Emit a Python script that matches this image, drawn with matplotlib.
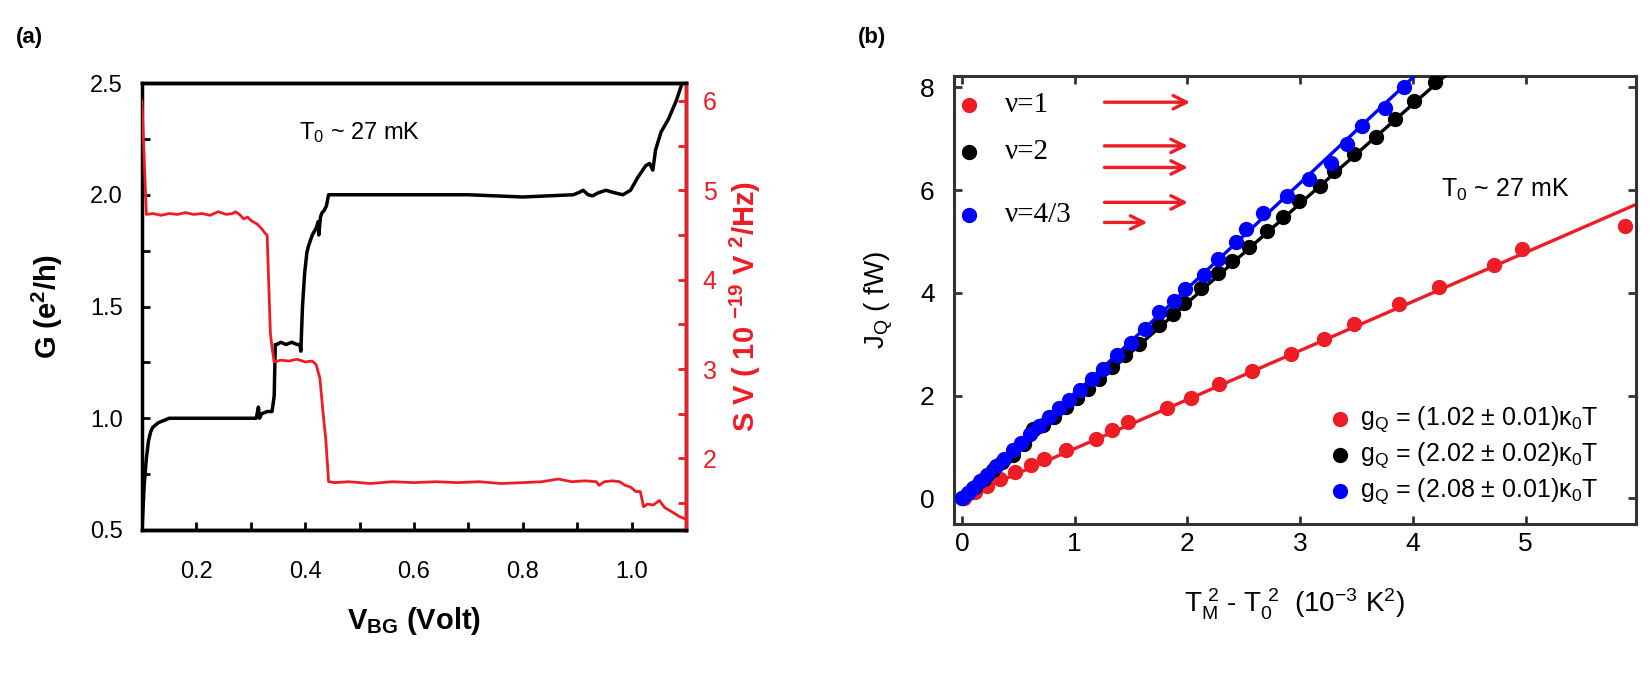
import numpy as np
import matplotlib
matplotlib.use("Agg")
import matplotlib.pyplot as plt
from matplotlib.ticker import MultipleLocator

plt.rcParams["font.family"] = ["Liberation Sans", "DejaVu Sans"]
plt.rcParams["mathtext.default"] = "regular"

# --- panel (a): conductance and noise vs back-gate voltage ---
g_v = [0.100, 0.104, 0.108, 0.112, 0.116, 0.120, 0.130, 0.140, 0.150, 0.200, 0.250, 0.300,
       0.310, 0.314, 0.316, 0.320, 0.330, 0.339, 0.343, 0.345, 0.348, 0.355, 0.365, 0.375,
       0.385, 0.390, 0.392, 0.395, 0.399, 0.403, 0.406, 0.413, 0.420, 0.424, 0.425, 0.428,
       0.431, 0.435, 0.439, 0.443, 0.500, 0.600, 0.700, 0.800, 0.893, 0.903, 0.911, 0.920,
       0.928, 0.940, 0.953, 0.967, 0.984, 0.998, 1.012, 1.026, 1.033, 1.039, 1.044, 1.054,
       1.068, 1.082, 1.093]
g_g = [0.50, 0.70, 0.82, 0.90, 0.94, 0.96, 0.98, 0.99, 1.00, 1.00, 1.00, 1.00,
       1.00, 1.05, 1.00, 1.02, 1.03, 1.03, 1.10, 1.33, 1.33, 1.34, 1.33, 1.34,
       1.33, 1.33, 1.30, 1.50, 1.65, 1.74, 1.77, 1.82, 1.85, 1.88, 1.82, 1.90,
       1.92, 1.93, 1.95, 2.00, 2.00, 2.00, 2.00, 1.99, 2.00, 2.01, 2.02, 2.00,
       1.995, 2.01, 2.02, 2.01, 2.00, 2.02, 2.08, 2.13, 2.14, 2.11, 2.20, 2.28,
       2.34, 2.42, 2.50]

s_v = [0.100, 0.108, 0.120, 0.135, 0.150, 0.165, 0.180, 0.195, 0.210, 0.225, 0.240, 0.255,
       0.266, 0.272, 0.279, 0.287, 0.294, 0.301, 0.312, 0.320, 0.326, 0.330, 0.336, 0.340,
       0.343, 0.355, 0.370, 0.385, 0.400, 0.413, 0.420, 0.427, 0.433, 0.438, 0.443, 0.455,
       0.480, 0.520, 0.560, 0.600, 0.640, 0.680, 0.720, 0.760, 0.800, 0.835, 0.865, 0.890,
       0.915, 0.935, 0.940, 0.950, 0.965, 0.978, 0.988, 0.998, 1.008, 1.016, 1.022, 1.029,
       1.040, 1.051, 1.061, 1.075, 1.088, 1.100]
s_n = [6.00, 4.73, 4.74, 4.72, 4.74, 4.73, 4.75, 4.73, 4.74, 4.72, 4.76, 4.73,
       4.74, 4.76, 4.73, 4.68, 4.70, 4.66, 4.62, 4.57, 4.52, 4.50, 3.40, 3.20,
       3.08, 3.10, 3.09, 3.11, 3.08, 3.09, 3.05, 2.90, 2.50, 2.20, 1.74, 1.73,
       1.74, 1.72, 1.74, 1.73, 1.74, 1.73, 1.74, 1.72, 1.73, 1.74, 1.77, 1.74,
       1.75, 1.74, 1.70, 1.74, 1.75, 1.74, 1.70, 1.68, 1.63, 1.63, 1.46, 1.49,
       1.48, 1.53, 1.45, 1.40, 1.35, 1.32]

# --- panel (b): heat current vs temperature difference ---
red_x = [0.02, 0.12, 0.22, 0.34, 0.47, 0.61, 0.73, 0.92, 1.19, 1.33, 1.47, 1.82, 2.03,
         2.28, 2.57, 2.92, 3.21, 3.48, 3.88, 4.23, 4.72, 4.97, 5.88]
red_y = [0.00, 0.12, 0.24, 0.37, 0.52, 0.65, 0.77, 0.95, 1.15, 1.33, 1.48, 1.75, 1.96,
         2.22, 2.48, 2.80, 3.10, 3.40, 3.78, 4.12, 4.55, 4.86, 5.30]
black_x = [0.00, 0.05, 0.12, 0.20, 0.28, 0.36, 0.45, 0.55, 0.63, 0.72, 0.82, 0.92, 1.02,
           1.12, 1.22, 1.33, 1.45, 1.57, 1.75, 1.87, 1.97, 2.12, 2.27, 2.40, 2.55, 2.71,
           2.85, 2.99, 3.18, 3.30, 3.48, 3.67, 3.84, 4.01, 4.20]
black_y = [0.00, 0.10, 0.22, 0.38, 0.55, 0.70, 0.85, 1.05, 1.35, 1.42, 1.58, 1.78, 1.95,
           2.12, 2.33, 2.55, 2.78, 3.00, 3.38, 3.58, 3.80, 4.10, 4.38, 4.62, 4.90, 5.20,
           5.48, 5.78, 6.08, 6.37, 6.70, 7.03, 7.38, 7.73, 8.10]
blue_x = [0.00, 0.05, 0.10, 0.16, 0.22, 0.30, 0.37, 0.45, 0.52, 0.60, 0.68, 0.77, 0.86,
          0.95, 1.05, 1.15, 1.25, 1.38, 1.50, 1.62, 1.75, 1.88, 1.98, 2.15, 2.27, 2.43,
          2.52, 2.67, 2.88, 3.08, 3.27, 3.42, 3.55, 3.75, 3.92]
blue_y = [0.00, 0.10, 0.20, 0.33, 0.45, 0.62, 0.77, 0.95, 1.08, 1.25, 1.40, 1.58, 1.75,
          1.92, 2.10, 2.32, 2.52, 2.78, 3.02, 3.30, 3.62, 3.84, 4.08, 4.35, 4.65, 4.98,
          5.24, 5.56, 5.89, 6.22, 6.52, 6.89, 7.24, 7.59, 8.00]
# fitted lines (end points)
red_fit_x, red_fit_y = [0.05, 5.98], [0.06, 5.72]
black_fit_x, black_fit_y = [0.03, 4.30], [0.00, 8.25]
blue_fit_x, blue_fit_y = [0.03, 4.03], [0.04, 8.25]

fit_labels = [r"g$_Q$ = (1.02 $\pm$ 0.01)$\kappa_0$T",
              r"g$_Q$ = (2.02 $\pm$ 0.02)$\kappa_0$T",
              r"g$_Q$ = (2.08 $\pm$ 0.01)$\kappa_0$T"]
nu_labels = ["ν=1", "ν=2", "ν=4/3"]

RED = "#ee1c25"
BLUE = "#0000ff"

fig = plt.figure(figsize=(16.5, 6.94), dpi=100)

# ---------- (a) ----------
ax1 = fig.add_axes([142 / 1650, 1 - 530 / 694, 544 / 1650, 447 / 694])
ax2 = ax1.twinx()
ax1.plot(g_v, g_g, color="black", lw=2.5)
ax2.plot(s_v, s_n, color=RED, lw=2.0)
ax1.set_xlim(0.1, 1.1)
ax1.set_ylim(0.5, 2.5)
ax2.set_ylim(1.2, 6.2)

ax1.xaxis.set_minor_locator(MultipleLocator(0.1))
ax1.yaxis.set_minor_locator(MultipleLocator(0.25))
ax1.set_xticks([0.2, 0.4, 0.6, 0.8, 1.0])
ax1.set_xticklabels(["0.2", "0.4", "0.6", "0.8", "1.0"])
ax1.set_yticks([0.5, 1.0, 1.5, 2.0, 2.5])
ax1.set_yticklabels(["0.5", "1.0", "1.5", "2.0", "2.5"])
ax1.tick_params(axis="both", which="both", direction="in", length=6, width=2,
                labelsize=17, top=False, right=False)
ax1.tick_params(axis="x", pad=22)
ax1.tick_params(axis="y", pad=14)
ax2.yaxis.set_major_locator(MultipleLocator(1))
ax2.yaxis.set_minor_locator(MultipleLocator(0.5))
ax2.tick_params(axis="y", which="both", direction="in", length=6, width=2,
                colors=RED, labelsize=18, pad=12)
for s in ax1.spines.values():
    s.set_linewidth(2.5)
for s in ax2.spines.values():
    s.set_linewidth(2.5)
ax2.spines["right"].set_color(RED)
ax2.spines["left"].set_visible(False)

ax1.set_xlabel(r"V$_{BG}$ (Volt)", fontsize=21, fontweight="bold", labelpad=16)
ax1.set_ylabel(r"G (e$^2$/h)", fontsize=21, fontweight="bold", labelpad=18)
ax2.set_ylabel(r"S V ( 10 $^{-19}$ V $^2$/Hz)", fontsize=21, fontweight="bold",
               color=RED, labelpad=8)
ax1.text(0.40, 0.89, r"T$_0$ ~ 27 mK", transform=ax1.transAxes, fontsize=17,
         ha="center", va="center")

# ---------- (b) ----------
ax3 = fig.add_axes([954 / 1650, 1 - 524 / 694, 682 / 1650, 448 / 694])
ax3.plot(red_fit_x, red_fit_y, color=RED, lw=2.4, zorder=2)
ax3.plot(red_x, red_y, "o", color=RED, ms=10, zorder=3)
ax3.plot(black_x, black_y, "o", color="black", ms=10, zorder=3)
ax3.plot(black_fit_x, black_fit_y, color="black", lw=2.4, zorder=4)
ax3.plot(blue_x, blue_y, "o", color=BLUE, ms=10, zorder=5)
ax3.plot(blue_fit_x, blue_fit_y, color=BLUE, lw=2.4, zorder=6)
ax3.set_xlim(-0.07, 5.98)
ax3.set_ylim(-0.5, 8.22)
ax3.set_xticks([0, 1, 2, 3, 4, 5])
ax3.set_yticks([0, 2, 4, 6, 8])
ax3.tick_params(axis="both", direction="in", length=6, width=2, labelsize=19,
                top=True, right=True, color="#333333")
ax3.tick_params(axis="x", pad=6)
ax3.tick_params(axis="y", pad=14)
for s in ax3.spines.values():
    s.set_linewidth(2.2)
    s.set_color("#333333")

ax3.set_xlabel(r"T$_M^{\ 2}$ - T$_0^{\ 2}$  (10$^{-3}$ K$^2$)", fontsize=20, labelpad=22)
ax3.set_ylabel(r"J$_Q$ ( fW)", fontsize=20, labelpad=18)

# legend for filling fractions with arrows
nu_colors = [RED, "black", BLUE]
nu_y = [7.66, 6.75, 5.51]
for c, yy, lab in zip(nu_colors, nu_y, nu_labels):
    ax3.plot([0.06], [yy], "o", color=c, ms=10)
    ax3.text(0.38, yy, lab, fontsize=21, family=["Liberation Serif", "DejaVu Serif"],
             va="center", ha="left")
arrows = [(7.71, 2.05), (6.86, 2.03), (6.44, 2.03), (5.76, 2.03), (5.37, 1.67)]
for yy, xe in arrows:
    ax3.annotate("", xy=(xe, yy), xytext=(1.24, yy),
                 arrowprops=dict(arrowstyle="->", color=RED, lw=2.4,
                                 mutation_scale=24))

ax3.text(4.25, 6.0, r"T$_0$ ~ 27 mK", fontsize=18, ha="left", va="center")

fit_colors = [RED, "black", BLUE]
fit_y = [1.55, 0.84, 0.14]
for c, yy, lab in zip(fit_colors, fit_y, fit_labels):
    ax3.plot([3.35], [yy], "o", color=c, ms=10)
    ax3.text(3.53, yy, lab, fontsize=18, va="center", ha="left")

fig.text(29 / 1650, 1 - 38 / 694, "(a)", fontsize=16, fontweight="bold",
         ha="center", va="center")
fig.text(872 / 1650, 1 - 38 / 694, "(b)", fontsize=16, fontweight="bold",
         ha="center", va="center")

fig.savefig("out.png", dpi=100)
